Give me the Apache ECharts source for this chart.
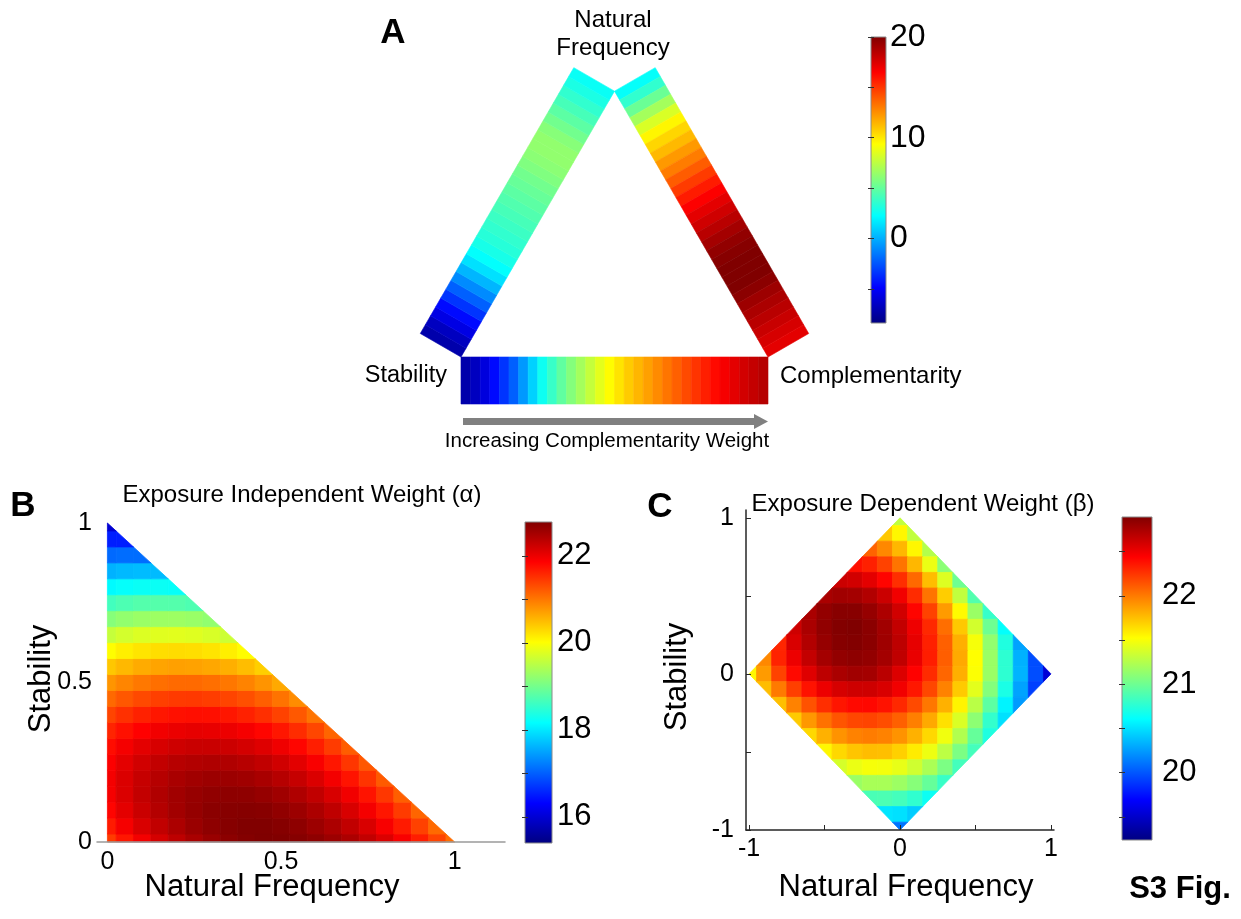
<!DOCTYPE html>
<html>
<head>
<meta charset="utf-8">
<script src="https://cdn.jsdelivr.net/npm/echarts@6/dist/echarts.min.js"></script>
<style>
  html, body { margin: 0; padding: 0; background: #fff; }
  #chart { width: 1241px; height: 919px; }
</style>
</head>
<body>
<div id="chart"></div>
<script>
// ---------- Panel A: weight value along each edge of the trait triangle ----------
// Stability -> Complementarity (bottom edge)
const barStabilityToComplementarity = [
  -7.2, -6.6, -5.8, -4.6, -3.4, -2.2, -0.6, 1.0, 2.6, 3.8, 4.9, 5.9, 6.8, 7.7, 8.6, 9.4,
  10.1, 10.8, 11.4, 12.0, 12.6, 13.2, 13.8, 14.4, 15.0, 15.6, 16.2, 16.7, 17.2, 17.7, 18.1, 18.5
];
// Stability -> Natural Frequency (left edge)
const barStabilityToNatural = [
  -7.2, -6.6, -5.6, -4.6, -3.4, -2.2, -1.0, 0.2, 1.4, 2.3, 2.9, 3.3, 3.6, 3.9, 4.2,
  4.5, 4.8, 5.1, 5.4, 5.8, 6.1, 6.3, 6.3, 6.0, 5.4, 4.8, 4.2, 3.6, 3.0, 2.5
];
// Natural Frequency -> Complementarity (right edge)
const barNaturalToComplementarity = [
  2.4, 3.6, 5.2, 6.8, 8.3, 9.6, 10.5, 11.3, 12.2, 13.0, 13.9, 14.8, 15.7, 16.5, 17.2,
  17.8, 18.4, 19.0, 19.5, 19.8, 20.0, 20.0, 20.0, 19.7, 19.2, 18.8, 18.4, 18.0, 17.6, 17.2
];
const rangeA = [-8.4, 20];
const ticksA = [-5, 0, 5, 10, 15, 20];
const labelsA = [0, 10, 20];

// ---------- Panel B: exposure independent weight (alpha) ----------
// rows: stability = 0, 0.05, ... 1 ; columns: natural frequency = 0, 0.05, ... (1 - stability)
const stepAlpha = 0.05;
const alphaRows = [
  [21.43,21.70,21.94,22.16,22.34,22.48,22.60,22.69,22.75,22.78,22.77,22.74,22.68,22.58,22.46,22.30,22.12,21.90,21.65,21.37,21.07],
  [21.67,21.92,22.13,22.31,22.46,22.59,22.68,22.74,22.77,22.77,22.74,22.68,22.58,22.46,22.31,22.13,21.91,21.67,21.39,21.09],
  [21.83,22.05,22.24,22.40,22.53,22.63,22.70,22.73,22.74,22.72,22.66,22.58,22.46,22.32,22.14,21.93,21.70,21.43,21.13],
  [21.92,22.12,22.29,22.43,22.54,22.61,22.66,22.68,22.67,22.62,22.55,22.44,22.31,22.14,21.95,21.72,21.46,21.17],
  [21.93,22.12,22.27,22.39,22.48,22.54,22.58,22.58,22.55,22.48,22.39,22.27,22.12,21.94,21.72,21.48,21.21],
  [21.88,22.05,22.19,22.30,22.38,22.42,22.44,22.43,22.38,22.31,22.20,22.06,21.90,21.70,21.47,21.22],
  [21.77,21.93,22.05,22.15,22.21,22.25,22.25,22.23,22.17,22.09,21.97,21.82,21.64,21.43,21.19],
  [21.60,21.74,21.86,21.95,22.00,22.03,22.02,21.99,21.92,21.82,21.70,21.54,21.35,21.13],
  [21.37,21.51,21.62,21.70,21.74,21.76,21.75,21.70,21.62,21.52,21.38,21.22,21.02],
  [21.10,21.23,21.33,21.40,21.44,21.45,21.42,21.37,21.29,21.17,21.03,20.85],
  [20.78,20.90,20.99,21.06,21.09,21.09,21.06,21.00,20.91,20.79,20.64],
  [20.42,20.53,20.62,20.67,20.70,20.69,20.65,20.59,20.49,20.36],
  [20.02,20.13,20.20,20.25,20.27,20.25,20.21,20.13,20.03],
  [19.59,19.69,19.76,19.79,19.80,19.78,19.73,19.64],
  [19.13,19.22,19.28,19.30,19.30,19.27,19.21],
  [18.64,18.72,18.77,18.78,18.77,18.73],
  [18.14,18.20,18.23,18.24,18.21],
  [17.61,17.66,17.68,17.67],
  [17.08,17.11,17.11],
  [16.54,16.54],
  [15.99]
];
const rangeAlpha = [15.4, 22.78];
const ticksAlpha = [16, 17, 18, 19, 20, 21, 22];
const labelsAlpha = [16, 18, 20, 22];

// ---------- Panel C: exposure dependent weight (beta) ----------
// rows: stability = 1, 0.9, ... -1 ; each row spans natural frequency -(1-|s|) ... (1-|s|) in steps of 0.1
const stepBeta = 0.1;
const betaRows = [
  [21.30],
  [21.72,21.55,21.30],
  [22.08,21.95,21.78,21.55,21.25],
  [22.38,22.32,22.20,22.02,21.78,21.45,21.10],
  [22.62,22.60,22.53,22.42,22.27,22.06,21.76,21.40,21.00],
  [22.74,22.77,22.76,22.71,22.62,22.48,22.28,22.02,21.70,21.30,20.90],
  [22.74,22.82,22.86,22.86,22.81,22.73,22.60,22.42,22.20,21.88,21.54,21.16,20.80],
  [22.61,22.74,22.83,22.88,22.89,22.85,22.77,22.65,22.49,22.29,22.04,21.72,21.36,21.00,20.62],
  [22.30,22.57,22.71,22.81,22.87,22.88,22.85,22.78,22.67,22.52,22.32,22.09,21.81,21.49,21.13,20.72,20.28],
  [21.95,22.31,22.50,22.65,22.76,22.82,22.84,22.82,22.76,22.66,22.51,22.33,22.10,21.83,21.52,21.16,20.77,20.33,19.97],
  [21.55,21.88,22.20,22.40,22.55,22.67,22.74,22.77,22.76,22.68,22.56,22.43,22.28,22.07,21.81,21.51,21.16,20.77,20.34,19.97,19.55],
  [21.76,22.00,22.21,22.37,22.50,22.58,22.61,22.61,22.57,22.48,22.35,22.18,21.97,21.71,21.42,21.08,20.70,20.28,19.92],
  [21.75,21.97,22.14,22.27,22.36,22.40,22.41,22.37,22.29,22.17,22.01,21.80,21.56,21.27,20.94,20.57,20.25],
  [21.71,21.89,22.03,22.13,22.18,22.19,22.16,22.09,21.98,21.83,21.63,21.39,21.11,20.79,20.50],
  [21.66,21.80,21.91,21.97,21.99,21.97,21.91,21.80,21.66,21.47,21.24,20.97,20.72],
  [21.55,21.66,21.73,21.76,21.75,21.69,21.59,21.46,21.28,21.05,20.85],
  [21.37,21.45,21.49,21.48,21.44,21.35,21.22,21.05,20.85],
  [21.16,21.21,21.21,21.17,21.09,20.97,20.81],
  [20.87,20.88,20.85,20.78,20.65],
  [20.52,20.50,20.43],
  [20.11]
];
const rangeBeta = [19.24, 22.89];
const ticksBeta = [19.5, 20, 20.5, 21, 21.5, 22, 22.5];
const labelsBeta = [20, 21, 22];

// ---------- shared styling ----------
const FONT = '"Liberation Sans", Arial, Helvetica, sans-serif';
const JET = ['#000080', '#0000ff', '#0080ff', '#00ffff', '#80ff80', '#ffff00', '#ff8000', '#ff0000', '#800000'];
const r2 = v => Math.round(v * 1000) / 1000;

// ---------- build series data from the value arrays ----------
const barValues = [barStabilityToComplementarity, barStabilityToNatural, barNaturalToComplementarity];
const barData = [];
barValues.forEach((vals, b) => vals.forEach((v, k) => barData.push([b, k, v])));

const alphaData = [];
alphaRows.forEach((row, j) => row.forEach((v, i) => alphaData.push([r2(i * stepAlpha), r2(j * stepAlpha), v])));

const betaData = [];
betaRows.forEach((row, r) => {
  const s = r2(1 - r * stepBeta);
  const half = (row.length - 1) / 2;
  row.forEach((v, i) => betaData.push([r2((i - half) * stepBeta), s, v]));
});

// ---------- geometry helpers ----------
// clip a polygon by half-planes a*x + b*y <= c
function clipPoly(poly, planes) {
  for (const [a, b, c] of planes) {
    const out = [];
    for (let k = 0; k < poly.length; k++) {
      const P = poly[k], Q = poly[(k + 1) % poly.length];
      const fp = a * P[0] + b * P[1] - c, fq = a * Q[0] + b * Q[1] - c;
      if (fp <= 1e-9) out.push(P);
      if ((fp < -1e-9 && fq > 1e-9) || (fp > 1e-9 && fq < -1e-9)) {
        const t = fp / (fp - fq);
        out.push([P[0] + t * (Q[0] - P[0]), P[1] + t * (Q[1] - P[1])]);
      }
    }
    poly = out;
    if (poly.length < 3) return [];
  }
  return poly;
}
const simplexPlanes = [[-1, 0, 0], [0, -1, 0], [1, 1, 1]];
const diamondPlanes = [[1, 1, 1], [1, -1, 1], [-1, 1, 1], [-1, -1, 1]];

function cellRenderer(step, planes) {
  return function (params, api) {
    const x = api.value(0), y = api.value(1), h = step / 2;
    const poly = clipPoly([[x - h, y - h], [x + h, y - h], [x + h, y + h], [x - h, y + h]], planes);
    if (!poly.length) return;
    const color = api.visual('color');
    return {
      type: 'polygon',
      shape: { points: poly.map(p => api.coord(p)) },
      style: { fill: color, stroke: color, lineWidth: 0.8 }
    };
  };
}

// triangle of traits in an equal-scale frame: Stability, Complementarity, Natural Frequency
const vS = [0, 0], vC = [1, 0], vN = [0.5, Math.sqrt(3) / 2];
const barEdges = [[vS, vC], [vS, vN], [vN, vC]];
const centroid = [0.5, Math.sqrt(3) / 6];
const barThickness = 47 / 307;
function barRenderer(params, api) {
  const b = api.value(0), k = api.value(1);
  const n = barValues[b].length;
  const [P, Q] = barEdges[b];
  const d = [Q[0] - P[0], Q[1] - P[1]];
  const len = Math.hypot(d[0], d[1]);
  let nx = -d[1] / len, ny = d[0] / len;
  const mid = [(P[0] + Q[0]) / 2, (P[1] + Q[1]) / 2];
  if (nx * (mid[0] - centroid[0]) + ny * (mid[1] - centroid[1]) < 0) { nx = -nx; ny = -ny; }
  const t0 = k / n, t1 = (k + 1) / n;
  const A = [P[0] + d[0] * t0, P[1] + d[1] * t0];
  const B = [P[0] + d[0] * t1, P[1] + d[1] * t1];
  const pts = [A, B, [B[0] + nx * barThickness, B[1] + ny * barThickness], [A[0] + nx * barThickness, A[1] + ny * barThickness]];
  const color = api.visual('color');
  return {
    type: 'polygon',
    shape: { points: pts.map(p => api.coord(p)) },
    style: { fill: color, stroke: color, lineWidth: 0.6 }
  };
}

function colorbarRenderer(range) {
  return function (params, api) {
    const p0 = api.coord([0, range[0]]), p1 = api.coord([1, range[1]]);
    return {
      type: 'rect',
      shape: { x: p0[0], y: p1[1], width: p1[0] - p0[0], height: p0[1] - p1[1] },
      style: {
        fill: new echarts.graphic.LinearGradient(0, 1, 0, 0,
          JET.map((c, i) => ({ offset: i / (JET.length - 1), color: c }))),
        stroke: '#8a8a8a', lineWidth: 1
      }
    };
  };
}

// ---------- axes ----------
const hiddenAxis = (gridIndex, min, max) => ({ type: 'value', gridIndex, min, max, show: false });
function colorbarAxes(gridIndex, range, ticks, labels, margin, fontSize) {
  return [
    {
      type: 'value', gridIndex, min: range[0], max: range[1], position: 'right', z: 5,
      axisLine: { show: false }, splitLine: { show: false },
      axisTick: { show: true, inside: true, length: 3, customValues: ticks, lineStyle: { color: '#333', width: 1 } },
      axisLabel: { show: true, customValues: labels, margin, color: '#000', fontSize, fontFamily: FONT }
    },
    {
      type: 'value', gridIndex, min: range[0], max: range[1], position: 'left', z: 5,
      axisLine: { show: false }, splitLine: { show: false },
      axisTick: { show: true, inside: true, length: 3, customValues: ticks, lineStyle: { color: '#333', width: 1 } },
      axisLabel: { show: false }
    }
  ];
}

const tickFont = { color: '#000', fontSize: 25, fontFamily: FONT };

const option = {
  animation: false,
  backgroundColor: '#fff',
  grid: [
    { left: 461, top: 50, width: 307, height: 307 },      // panel A triangle frame
    { left: 871, top: 37, width: 15, height: 286 },       // panel A colorbar
    { left: 97, top: 523, width: 408, height: 319 },      // panel B plot
    { left: 525, top: 522, width: 27, height: 321 },      // panel B colorbar
    { left: 746, top: 510, width: 308, height: 320 },     // panel C plot
    { left: 1122, top: 517, width: 30, height: 323 }      // panel C colorbar
  ],
  xAxis: [
    hiddenAxis(0, 0, 1),
    hiddenAxis(1, 0, 1),
    {
      type: 'value', gridIndex: 2, min: -0.03, max: 1.145, z: 5,
      axisLine: { show: true, onZero: false, lineStyle: { color: '#9a9a9a', width: 1.5 } },
      axisTick: { show: false }, splitLine: { show: false },
      axisLabel: Object.assign({ customValues: [0, 0.5, 1], margin: 8 }, tickFont)
    },
    hiddenAxis(3, 0, 1),
    {
      type: 'value', gridIndex: 4, min: -1.02, max: 1.02, z: 5,
      axisLine: { show: true, onZero: false, lineStyle: { color: '#262626', width: 1.5 } },
      axisTick: { show: true, inside: true, length: 5, customValues: [-1, -0.5, 0, 0.5, 1], lineStyle: { color: '#262626' } },
      splitLine: { show: false },
      axisLabel: Object.assign({ customValues: [-1, 0, 1], margin: 7 }, tickFont)
    },
    hiddenAxis(5, 0, 1)
  ],
  yAxis: [
    hiddenAxis(0, 0, 1),
    ...colorbarAxes(1, rangeA, ticksA, labelsA, 4, 32),
    {
      type: 'value', gridIndex: 2, min: 0, max: 1, z: 5,
      axisLine: { show: false, onZero: false }, axisTick: { show: false }, splitLine: { show: false },
      axisLabel: Object.assign({ customValues: [0, 0.5, 1], margin: 5 }, tickFont)
    },
    ...colorbarAxes(3, rangeAlpha, ticksAlpha, labelsAlpha, 5, 31),
    {
      type: 'value', gridIndex: 4, min: -1, max: 1.05, z: 5,
      axisLine: { show: true, onZero: false, lineStyle: { color: '#262626', width: 1.5 } },
      axisTick: { show: true, inside: true, length: 5, customValues: [-1, -0.5, 0, 0.5, 1], lineStyle: { color: '#262626' } },
      splitLine: { show: false },
      axisLabel: Object.assign({ customValues: [-1, 0, 1], margin: 12 }, tickFont)
    },
    ...colorbarAxes(5, rangeBeta, ticksBeta, labelsBeta, 10, 31)
  ],
  visualMap: [
    { type: 'continuous', show: false, seriesIndex: 0, dimension: 2, min: rangeA[0], max: rangeA[1], inRange: { color: JET } },
    { type: 'continuous', show: false, seriesIndex: 2, dimension: 2, min: rangeAlpha[0], max: rangeAlpha[1], inRange: { color: JET } },
    { type: 'continuous', show: false, seriesIndex: 4, dimension: 2, min: rangeBeta[0], max: rangeBeta[1], inRange: { color: JET } }
  ],
  series: [
    { type: 'custom', name: 'trait weights', xAxisIndex: 0, yAxisIndex: 0, data: barData, renderItem: barRenderer, silent: true },
    { type: 'custom', xAxisIndex: 1, yAxisIndex: 1, data: [[0, 0]], renderItem: colorbarRenderer(rangeA), silent: true },
    { type: 'custom', name: 'alpha', xAxisIndex: 2, yAxisIndex: 3, data: alphaData, renderItem: cellRenderer(stepAlpha, simplexPlanes), silent: true },
    { type: 'custom', xAxisIndex: 3, yAxisIndex: 4, data: [[0, 0]], renderItem: colorbarRenderer(rangeAlpha), silent: true },
    { type: 'custom', name: 'beta', xAxisIndex: 4, yAxisIndex: 6, data: betaData, renderItem: cellRenderer(stepBeta, diamondPlanes), silent: true },
    { type: 'custom', xAxisIndex: 5, yAxisIndex: 7, data: [[0, 0]], renderItem: colorbarRenderer(rangeBeta), silent: true }
  ],
  graphic: [
    // panel letters
    { type: 'text', x: 393, y: 33, style: { text: 'A', font: 'bold 35px ' + FONT, fill: '#000', align: 'center', verticalAlign: 'middle' } },
    { type: 'text', x: 23, y: 506, style: { text: 'B', font: 'bold 35px ' + FONT, fill: '#000', align: 'center', verticalAlign: 'middle' } },
    { type: 'text', x: 660, y: 507, style: { text: 'C', font: 'bold 35px ' + FONT, fill: '#000', align: 'center', verticalAlign: 'middle' } },
    // panel A labels
    { type: 'text', x: 613, y: 20, style: { text: 'Natural', font: '24px ' + FONT, fill: '#000', align: 'center', verticalAlign: 'middle' } },
    { type: 'text', x: 613, y: 48, style: { text: 'Frequency', font: '24px ' + FONT, fill: '#000', align: 'center', verticalAlign: 'middle' } },
    { type: 'text', x: 447, y: 376, style: { text: 'Stability', font: '23.5px ' + FONT, fill: '#000', align: 'right', verticalAlign: 'middle' } },
    { type: 'text', x: 780, y: 376, style: { text: 'Complementarity', font: '24px ' + FONT, fill: '#000', align: 'left', verticalAlign: 'middle' } },
    { type: 'rect', shape: { x: 463, y: 418, width: 293, height: 7 }, style: { fill: '#808080' } },
    { type: 'polygon', shape: { points: [[754, 414], [768, 421.5], [754, 429]] }, style: { fill: '#808080' } },
    { type: 'text', x: 607, y: 441, style: { text: 'Increasing Complementarity Weight', font: '20.5px ' + FONT, fill: '#000', align: 'center', verticalAlign: 'middle' } },
    // panel B labels
    { type: 'text', x: 302, y: 495, style: { text: 'Exposure Independent Weight (α)', font: '24px ' + FONT, fill: '#000', align: 'center', verticalAlign: 'middle' } },
    { type: 'text', x: 272, y: 887, style: { text: 'Natural Frequency', font: '31px ' + FONT, fill: '#000', align: 'center', verticalAlign: 'middle' } },
    { type: 'text', x: 41, y: 679, rotation: Math.PI / 2, style: { text: 'Stability', font: '31px ' + FONT, fill: '#000', align: 'center', verticalAlign: 'middle' } },
    // panel C labels
    { type: 'text', x: 923, y: 504, style: { text: 'Exposure Dependent Weight (β)', font: '24px ' + FONT, fill: '#000', align: 'center', verticalAlign: 'middle' } },
    { type: 'text', x: 906, y: 887, style: { text: 'Natural Frequency', font: '31px ' + FONT, fill: '#000', align: 'center', verticalAlign: 'middle' } },
    { type: 'text', x: 677, y: 677, rotation: Math.PI / 2, style: { text: 'Stability', font: '31px ' + FONT, fill: '#000', align: 'center', verticalAlign: 'middle' } },
    // figure tag
    { type: 'text', x: 1180, y: 889, style: { text: 'S3 Fig.', font: 'bold 31px ' + FONT, fill: '#000', align: 'center', verticalAlign: 'middle' } }
  ]
};

const chart = echarts.init(document.getElementById('chart'), null, { renderer: 'canvas' });
chart.setOption(option);
</script>
</body>
</html>
